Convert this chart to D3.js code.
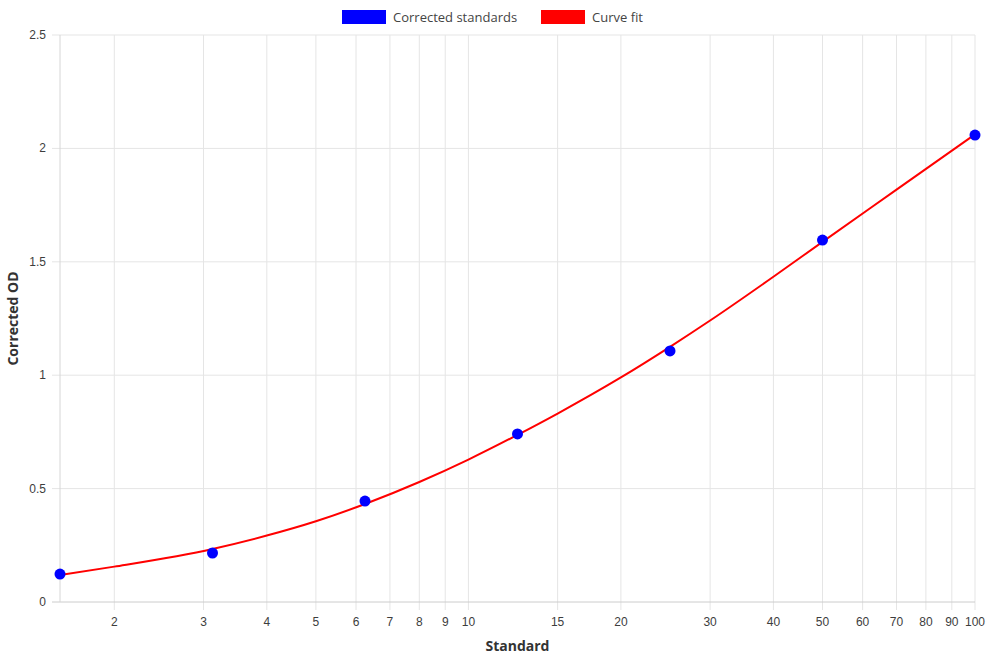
<!DOCTYPE html>
<html>
<head>
<meta charset="utf-8">
<script src="https://cdn.jsdelivr.net/npm/d3@7"></script>
<style>
  body { margin: 0; background: #fff; }
  svg { display: block; }
</style>
</head>
<body>
<svg id="chart"></svg>
<script>
// standards (x) and corrected OD (y)
const standards = [1.5625, 3.125, 6.25, 12.5, 25, 50, 100];
const correctedOD = [0.123, 0.216, 0.445, 0.741, 1.107, 1.596, 2.059];

// curve fit
const fitX = [1.5625, 2, 3.125, 4, 5, 6.25, 8, 10, 12.5, 15, 20, 25, 30, 40, 50, 70, 100];
const fitY = [0.119, 0.156, 0.234, 0.293, 0.356, 0.432, 0.529, 0.628, 0.737, 0.831, 0.99, 1.125, 1.241, 1.434, 1.588, 1.818, 2.062];

const xTicks = [2, 3, 4, 5, 6, 7, 8, 9, 10, 15, 20, 30, 40, 50, 60, 70, 80, 90, 100];
const yTicks = [0, 0.5, 1, 1.5, 2, 2.5];

const W = 990, H = 660;
const margin = { top: 35, right: 15, bottom: 58, left: 60 };
const width = W - margin.left - margin.right;
const height = H - margin.top - margin.bottom;

const svg = d3.select('#chart').attr('width', W).attr('height', H);
const g = svg.append('g').attr('transform', `translate(${margin.left},${margin.top})`);

const x = d3.scaleLog().domain([1.5625, 100]).range([0, width]);
const y = d3.scaleLinear().domain([0, 2.5]).range([height, 0]);

const gridColor = '#e5e5e5';
const tickFont = '"Liberation Sans", Arial, sans-serif';
const titleFont = '"Open Sans", sans-serif';

// vertical grid + tick marks
g.selectAll('.vgrid')
  .data(xTicks)
  .enter()
  .append('line')
  .attr('x1', d => x(d)).attr('x2', d => x(d))
  .attr('y1', 0).attr('y2', height + 8)
  .attr('stroke', gridColor).attr('stroke-width', 1);

// horizontal grid + tick marks
g.selectAll('.hgrid')
  .data(yTicks)
  .enter()
  .append('line')
  .attr('x1', -8).attr('x2', width)
  .attr('y1', d => y(d)).attr('y2', d => y(d))
  .attr('stroke', d => d === 0 ? '#cccccc' : gridColor).attr('stroke-width', 1);

// left axis line
g.append('line')
  .attr('x1', 0).attr('x2', 0)
  .attr('y1', 0).attr('y2', height)
  .attr('stroke', '#d6d6d6');

// tick labels
g.selectAll('.xlab')
  .data(xTicks)
  .enter()
  .append('text')
  .attr('x', d => x(d))
  .attr('y', height + 24)
  .attr('text-anchor', 'middle')
  .attr('font-family', tickFont)
  .attr('font-size', 12)
  .attr('fill', '#3d3d3d')
  .text(d => d);

g.selectAll('.ylab')
  .data(yTicks)
  .enter()
  .append('text')
  .attr('x', -14)
  .attr('y', d => y(d) + 4)
  .attr('text-anchor', 'end')
  .attr('font-family', tickFont)
  .attr('font-size', 12)
  .attr('fill', '#3d3d3d')
  .text(d => d);

// axis titles
svg.append('text')
  .attr('x', margin.left + width / 2)
  .attr('y', 651)
  .attr('text-anchor', 'middle')
  .attr('font-family', titleFont)
  .attr('font-weight', 'bold')
  .attr('font-size', 14)
  .attr('fill', '#333')
  .text('Standard');

svg.append('text')
  .attr('transform', `translate(18,${margin.top + height / 2}) rotate(-90)`)
  .attr('text-anchor', 'middle')
  .attr('font-family', titleFont)
  .attr('font-weight', 'bold')
  .attr('font-size', 14)
  .attr('fill', '#333')
  .text('Corrected OD');

// curve fit
const fit = fitX.map((v, i) => ({ x: v, y: fitY[i] }));
const line = d3.line()
  .x(d => x(d.x))
  .y(d => y(d.y))
  .curve(d3.curveMonotoneX);

g.append('path')
  .datum(fit)
  .attr('fill', 'none')
  .attr('stroke', '#ff0000')
  .attr('stroke-width', 2)
  .attr('d', line);

// standards
g.selectAll('.dot')
  .data(standards)
  .enter()
  .append('circle')
  .attr('cx', d => x(d))
  .attr('cy', (d, i) => y(correctedOD[i]))
  .attr('r', 5.5)
  .attr('fill', '#0000ff');

// legend
const legendItems = [
  { label: 'Corrected standards', color: '#0000ff', x: 342 },
  { label: 'Curve fit', color: '#ff0000', x: 541 }
];
const legend = svg.append('g');
legend.selectAll('rect')
  .data(legendItems)
  .enter()
  .append('rect')
  .attr('x', d => d.x).attr('y', 10)
  .attr('width', 44).attr('height', 14)
  .attr('fill', d => d.color);
legend.selectAll('text')
  .data(legendItems)
  .enter()
  .append('text')
  .attr('x', d => d.x + 51).attr('y', 21.5)
  .attr('font-family', titleFont)
  .attr('font-size', 13)
  .attr('fill', '#444')
  .text(d => d.label);
</script>
</body>
</html>
